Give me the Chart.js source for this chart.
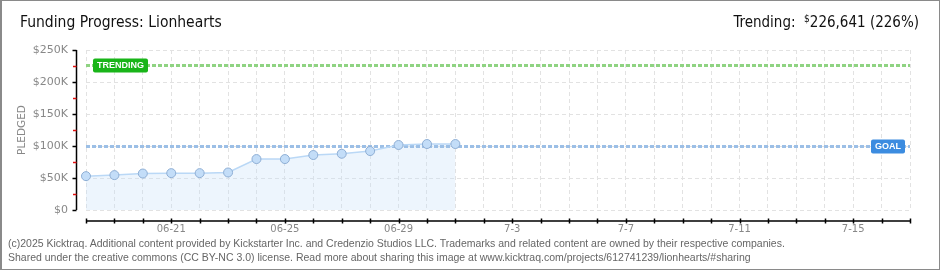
<!DOCTYPE html>
<html>
<head>
<meta charset="utf-8">
<script src="https://cdn.jsdelivr.net/npm/chart.js@4"></script>
<style>
  html, body { margin: 0; padding: 0; background: #fff; }
  #wrap { position: relative; width: 940px; height: 270px; overflow: hidden; }
  #frame { position: absolute; left: 0; top: 0; width: 940px; height: 270px; box-sizing: border-box;
           border: 1px solid #8a8a8a; border-left-width: 2px; pointer-events: none; }
  .txt { position: absolute; white-space: nowrap; }
  #title { left: 20px; top: 13px; font: 15.5px 'Liberation Sans Narrow', 'DejaVu Sans Condensed', sans-serif; color: #111; }
  #trend { right: 21px; top: 13px; font: 15px 'Liberation Sans Narrow', 'DejaVu Sans Condensed', sans-serif; color: #111; }
  #trend sup { font-size: 10px; vertical-align: 5px; }
  .foot { left: 8px; font: 10.5px 'Liberation Sans', sans-serif; color: #666; }
</style>
</head>
<body>
<div id="wrap">
  <canvas id="chart" width="940" height="270"></canvas>
  <div class="txt" id="title">Funding Progress: Lionhearts</div>
  <div class="txt" id="trend">Trending:&nbsp; <sup>$</sup>226,641 (226%)</div>
  <div class="txt foot" style="top:237px">(c)2025 Kicktraq. Additional content provided by Kickstarter Inc. and Credenzio Studios LLC. Trademarks and related content are owned by their respective companies.</div>
  <div class="txt foot" style="top:251px">Shared under the creative commons (CC BY-NC 3.0) license. Read more about sharing this image at www.kicktraq.com/projects/612741239/lionhearts/#sharing</div>
  <div id="frame"></div>
</div>
<script>
// days on the x axis
const days = ['06-18', '06-19', '06-20', '06-21', '06-22', '06-23', '06-24', '06-25', '06-26', '06-27',
              '06-28', '06-29', '06-30', '7-1', '7-2', '7-3', '7-4', '7-5', '7-6', '7-7',
              '7-8', '7-9', '7-10', '7-11', '7-12', '7-13', '7-14', '7-15', '7-16', '7-17'];
// labels printed under the axis
const tickLabels = ['06-21', '06-25', '06-29', '7-3', '7-7', '7-11', '7-15'];
// pledged total per day ($)
const pledged = [52900, 54500, 57000, 57600, 57600, 58600, 79600, 79600, 85900, 87900, 92100, 101600, 103100, 103100];
const goal = 100000;
const trending = 226641;
const minorTicks = [25000, 75000, 125000, 175000, 225000];

const fmtK = v => '$' + (v / 1000) + (v ? 'K' : '');

// lineas de meta / tendencia y ejes desplazados
const extras = {
    id: 'extras',
    beforeDatasetsDraw(chart) {
        const { ctx, chartArea: a, scales: { y } } = chart;
        const refLine = (val, color) => {
            const py = Math.round(y.getPixelForValue(val)) + 0.5;
            ctx.save();
            ctx.strokeStyle = color;
            ctx.lineWidth = 3;
            ctx.setLineDash([4, 2]);
            ctx.beginPath();
            ctx.moveTo(a.left, py);
            ctx.lineTo(a.right, py);
            ctx.stroke();
            ctx.restore();
            return py;
        };
        const badge = (text, x, py, w, color) => {
            ctx.save();
            ctx.fillStyle = color;
            ctx.beginPath();
            ctx.roundRect(x, py - 7, w, 14, 2);
            ctx.fill();
            ctx.fillStyle = '#fff';
            ctx.font = 'bold 9px "Liberation Sans", sans-serif';
            ctx.textBaseline = 'middle';
            ctx.textAlign = 'left';
            ctx.fillText(text, x + 4, py + 0.5);
            ctx.restore();
        };
        const ty = refLine(trending, '#8fd382');
        badge('TRENDING', a.left + 7, ty, 55, '#19b519');
        const gy = refLine(goal, '#9cbfe6');
        badge('GOAL', a.right - 39, gy, 34, '#3c8ce0');
    },
    afterDraw(chart) {
        const { ctx, chartArea: a, scales: { x, y } } = chart;
        ctx.save();
        // eje y
        const ax = a.left - 9.5;
        ctx.strokeStyle = '#000';
        ctx.lineWidth = 1.5;
        ctx.beginPath();
        ctx.moveTo(ax, y.getPixelForValue(250000));
        ctx.lineTo(ax, y.getPixelForValue(0));
        y.ticks.forEach(t => {
            const py = Math.round(y.getPixelForValue(t.value)) + 0.5;
            ctx.moveTo(ax - 4, py);
            ctx.lineTo(ax, py);
        });
        ctx.stroke();
        ctx.strokeStyle = '#e01010';
        ctx.beginPath();
        minorTicks.forEach(v => {
            const py = Math.round(y.getPixelForValue(v)) + 0.5;
            ctx.moveTo(ax - 3.5, py);
            ctx.lineTo(ax, py);
        });
        ctx.stroke();
        // eje x
        const bx = a.bottom + 11;
        ctx.strokeStyle = '#000';
        ctx.beginPath();
        ctx.moveTo(a.left, bx);
        ctx.lineTo(a.right, bx);
        days.forEach((d, i) => {
            const px = Math.round(x.getPixelForValue(i)) + 0.5;
            ctx.moveTo(px, bx - 2.5);
            ctx.lineTo(px, bx + 2.5);
        });
        ctx.stroke();
        ctx.restore();
    }
};

new Chart(document.getElementById('chart'), {
    type: 'line',
    data: {
        labels: days,
        datasets: [{
            label: 'Pledged',
            data: pledged,
            borderColor: '#bad8f6',
            borderWidth: 1.5,
            backgroundColor: 'rgba(196, 222, 250, 0.3)',
            fill: 'origin',
            tension: 0,
            pointRadius: 4.5,
            pointBackgroundColor: '#c3ddf8',
            pointBorderColor: '#8eaed4',
            pointBorderWidth: 1
        }]
    },
    options: {
        responsive: false,
        animation: false,
        layout: { padding: { left: 0, right: 30, top: 50, bottom: 0 } },
        plugins: {
            legend: { display: false },
            tooltip: { enabled: false },
            filler: { drawTime: 'beforeDatasetsDraw' }
        },
        scales: {
            x: {
                offset: false,
                afterFit: s => { s.height = 60; },
                grid: { color: '#e2e2e2', lineWidth: 1, drawTicks: false },
                border: { display: false, dash: [4, 3] },
                ticks: {
                    autoSkip: false,
                    maxRotation: 0,
                    padding: 13,
                    color: '#888',
                    font: { family: 'DejaVu Sans', size: 10 },
                    callback: function (v) {
                        const l = this.getLabelForValue(v);
                        return tickLabels.includes(l) ? l : '';
                    }
                }
            },
            y: {
                min: 0,
                max: 250000,
                afterFit: s => { s.width = 86; },
                grid: { color: '#e2e2e2', lineWidth: 1, drawTicks: false },
                border: { display: false, dash: [4, 3] },
                ticks: {
                    stepSize: 50000,
                    padding: 18,
                    color: '#888',
                    font: { family: 'DejaVu Sans', size: 11 },
                    callback: v => fmtK(v)
                },
                title: {
                    display: true,
                    text: 'PLEDGED',
                    color: '#888',
                    font: { family: 'DejaVu Sans', size: 10.5 },
                    padding: { top: 16, bottom: 0 }
                }
            }
        }
    },
    plugins: [extras]
});
</script>
</body>
</html>
